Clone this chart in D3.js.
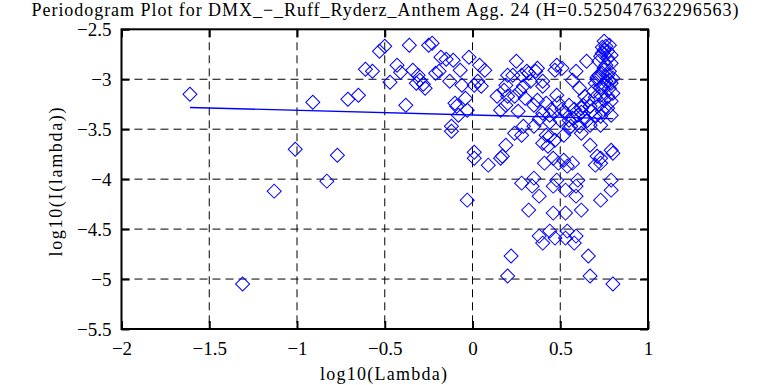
<!DOCTYPE html>
<html>
<head>
<meta charset="utf-8">
<script src="https://cdn.jsdelivr.net/npm/d3@7"></script>
<style>
  body { margin: 0; background: #fff; }
  svg { display: block; }
</style>
</head>
<body>
<svg id="chart" width="769" height="385" font-family="'Liberation Serif', 'DejaVu Serif', serif"></svg>
<script>
const title = 'Periodogram Plot for DMX_\u2212_Ruff_Ryderz_Anthem Agg. 24 (H=0.525047632296563)'
const xLabel = 'log10(Lambda)'
const yLabel = 'log10(I(lambda))'

const xTicks = [-2, -1.5, -1, -0.5, 0, 0.5, 1]
const xTickLabels = ['\u22122', '\u22121.5', '\u22121', '\u22120.5', '0', '0.5', '1']
const yTicks = [-2.5, -3, -3.5, -4, -4.5, -5, -5.5]
const yTickLabels = ['\u22122.5', '\u22123', '\u22123.5', '\u22124', '\u22124.5', '\u22125', '\u22125.5']

// periodogram points
const logLambda = [
  -1.61, -1.13, -1.31, -1.01, -0.83, -0.77, -0.91, -0.71, -0.65, -0.61,
  -0.57, -0.38, -0.47, -0.43, -0.41, -0.34, -0.32, -0.53, -0.50, -0.36,
  -0.25, -0.23, -0.31, -0.30, -0.28, -0.27, -0.18, -0.15, -0.11, -0.02,
  -0.07, -0.21, -0.19, -0.13, -0.06, 0.01, -0.04, -0.09, -0.08, -0.12,
  0.01, 0.04, 0.07, 0.03, 0.05, 0.20, 0.25, 0.31, 0.36, 0.40,
  0.33, 0.48, 0.47, 0.51, 0.65, 0.59, 0.75, 0.78, 0.74, 0.77,
  0.14, 0.18, 0.24, 0.29, 0.16, 0.37, 0.48, 0.49, -0.03, -0.10,
  -0.12, 0.76, 0.75, 0.73, 0.79, 0.75, 0.72, 0.77, 0.80, 0.70,
  0.75, 0.78, 0.69, 0.73, 0.77, 0.80, 0.66, 0.72, 0.77, 0.63,
  0.68, 0.57, 0.61, 0.64, 0.40, 0.37, 0.32, 0.28, 0.23, 0.19,
  0.20, 0.27, 0.30, 0.35, 0.42, 0.40, 0.44, 0.53, 0.55, 0.57,
  0.60, 0.64, 0.73, 0.79, 0.19, 0.26, 0.19, 0.17, 0.24, 0.28,
  0.29, 0.35, 0.42, 0.40, 0.43, 0.44, 0.47, 0.52, 0.56, 0.61,
  0.67, 0.62, 0.67, 0.73, 0.79, 0.80, 0.71, 0.73, 0.70, 0.41,
  0.46, 0.49, 0.52, 0.57, 0.54, 0.35, 0.28, 0.34, 0.38, 0.46,
  0.48, 0.53, 0.59, 0.60, 0.59, 0.73, 0.79, 0.79, 0.32, 0.46,
  0.53, 0.62, 0.01, 0.09, 0.16, -0.03, 0.73, 0.44, 0.54, 0.38,
  0.40, 0.47, 0.53, 0.59, 0.58, 0.22, 0.20, 0.66, 0.67, 0.80,
  0.78, 0.71, 0.62, 0.55, 0.51, 0.44, 0.74, 0.77, 0.79, 0.72,
  0.76, 0.78, 0.74, 0.71, 0.76, 0.79, 0.73, 0.70, 0.75, 0.79,
  0.67, 0.74, 0.70, 0.62, 0.65, 0.58, 0.45, 0.50, 0.38, 0.55
]
const logI = [
  -3.15, -4.12, -5.05, -3.70, -4.02, -3.76, -3.23, -3.20, -3.16, -2.90,
  -2.92, -3.26, -3.03, -2.86, -2.93, -2.91, -3.04, -2.72, -2.67, -2.66,
  -2.66, -2.64, -2.96, -3.01, -3.05, -3.09, -2.78, -2.80, -2.81, -2.78,
  -2.91, -2.94, -2.92, -3.02, -3.06, -3.06, -3.19, -3.27, -3.36, -3.52,
  -3.73, -2.86, -2.91, -3.02, -3.07, -2.96, -2.82, -2.92, -2.92, -3.02,
  -3.02, -2.86, -2.91, -2.89, -2.82, -2.92, -2.62, -2.66, -2.74, -2.79,
  -3.17, -3.11, -3.17, -3.07, -3.31, -3.21, -3.16, -3.24, -3.31, -3.24,
  -3.47, -2.67, -2.71, -2.77, -2.84, -2.89, -2.96, -2.96, -2.99, -3.04,
  -3.06, -3.09, -3.12, -3.16, -3.17, -3.14, -3.21, -3.26, -3.29, -3.26,
  -3.32, -3.01, -3.09, -3.17, -3.07, -2.89, -2.94, -2.96, -2.96, -3.06,
  -3.17, -3.12, -3.19, -3.26, -3.24, -3.34, -3.36, -3.34, -3.26, -3.39,
  -3.36, -3.39, -3.37, -3.36, -3.26, -3.32, -3.66, -3.77, -3.54, -3.56,
  -3.47, -3.47, -3.56, -3.64, -3.67, -3.57, -3.61, -3.56, -3.47, -3.47,
  -3.46, -3.54, -3.66, -3.46, -3.71, -3.74, -3.77, -3.79, -3.86, -3.84,
  -3.79, -3.84, -3.81, -3.84, -3.87, -3.99, -4.04, -4.07, -4.17, -4.07,
  -4.01, -4.11, -4.07, -4.01, -4.17, -4.21, -4.11, -4.01, -4.31, -4.34,
  -4.34, -4.31, -3.79, -3.86, -3.79, -4.21, -3.84, -4.52, -4.52, -4.57,
  -4.64, -4.59, -4.59, -4.57, -4.64, -4.77, -4.97, -4.77, -4.97, -5.05,
  -3.01, -2.98, -3.29, -3.41, -3.30, -3.43, -2.68, -2.72, -2.76, -2.82,
  -2.86, -2.92, -2.94, -3.00, -3.02, -3.04, -3.08, -3.18, -3.21, -3.22,
  -3.27, -3.32, -3.36, -3.33, -3.42, -3.30, -3.30, -3.41, -3.40, -3.49
]

// fitted line end points
const fitX = [-1.61, 0.80]
const fitY = [-3.283, -3.395]

const svg = d3.select('#chart')
const plotLeft = 121.5, plotRight = 648, plotTop = 29.3, plotBottom = 329
const serif = "'Liberation Serif', serif"

const x = d3.scaleLinear().domain([-2, 1]).range([plotLeft, plotRight])
const y = d3.scaleLinear().domain([-5.5, -2.5]).range([plotBottom, plotTop])

svg.append('rect').attr('width', 769).attr('height', 385).attr('fill', '#fff')

// grid
const grid = svg.append('g')
  .attr('stroke', '#000')
  .attr('stroke-width', 1)
  .attr('stroke-dasharray', '8,5')
grid.selectAll('line.gx')
  .data(xTicks.slice(1, -1))
  .enter().append('line')
  .attr('class', 'gx')
  .attr('x1', d => x(d)).attr('x2', d => x(d))
  .attr('y1', plotTop).attr('y2', plotBottom)
grid.selectAll('line.gy')
  .data(yTicks.slice(1, -1))
  .enter().append('line')
  .attr('class', 'gy')
  .attr('x1', plotLeft).attr('x2', plotRight)
  .attr('y1', d => y(d)).attr('y2', d => y(d))

// axes with inward ticks
function styleAxis(g) {
  g.select('.domain').remove()
  g.selectAll('.tick line').attr('stroke', '#000').attr('stroke-width', 2)
  g.selectAll('.tick text')
    .attr('fill', '#000')
    .attr('font-size', 19)
    .attr('font-family', serif)
}

svg.append('g')
  .attr('transform', `translate(0,${plotBottom})`)
  .call(d3.axisBottom(x).tickValues(xTicks).tickSize(-8).tickPadding(13)
    .tickFormat((d, i) => xTickLabels[i]))
  .call(styleAxis)
svg.append('g')
  .attr('transform', `translate(0,${plotTop})`)
  .call(d3.axisTop(x).tickValues(xTicks).tickSize(-8).tickFormat(''))
  .call(styleAxis)
svg.append('g')
  .attr('transform', `translate(${plotLeft},0)`)
  .call(d3.axisLeft(y).tickValues(yTicks).tickSize(-8).tickPadding(10)
    .tickFormat((d, i) => yTickLabels[i]))
  .call(styleAxis)
svg.append('g')
  .attr('transform', `translate(${plotRight},0)`)
  .call(d3.axisRight(y).tickValues(yTicks).tickSize(-8).tickFormat(''))
  .call(styleAxis)

// frame
svg.append('rect')
  .attr('x', plotLeft).attr('y', plotTop)
  .attr('width', plotRight - plotLeft).attr('height', plotBottom - plotTop)
  .attr('fill', 'none').attr('stroke', '#000').attr('stroke-width', 2)

// points
const pts = logLambda.map((v, i) => [v, logI[i]])
const diamond = d3.symbol(d3.symbolSquare, 98)
svg.append('g')
  .selectAll('path')
  .data(pts)
  .enter().append('path')
  .attr('d', diamond)
  .attr('transform', d => `translate(${x(d[0])},${y(d[1])}) rotate(45)`)
  .attr('fill', 'none')
  .attr('stroke', '#0000ff')
  .attr('stroke-width', 1)

// fitted line
svg.append('path')
  .datum(fitX.map((v, i) => [v, fitY[i]]))
  .attr('d', d3.line().x(d => x(d[0])).y(d => y(d[1])))
  .attr('fill', 'none')
  .attr('stroke', '#0000ff')
  .attr('stroke-width', 1.3)

// labels
svg.append('text')
  .attr('x', 385).attr('y', 16)
  .attr('text-anchor', 'middle')
  .attr('font-family', serif)
  .attr('font-size', 18)
  .attr('textLength', 707)
  .text(title)
svg.append('text')
  .attr('x', 383.5).attr('y', 380)
  .attr('text-anchor', 'middle')
  .attr('font-family', serif)
  .attr('font-size', 18)
  .attr('textLength', 127)
  .text(xLabel)
svg.append('text')
  .attr('transform', 'translate(62,182) rotate(-90)')
  .attr('text-anchor', 'middle')
  .attr('font-family', serif)
  .attr('font-size', 18)
  .attr('textLength', 149)
  .text(yLabel)
</script>
</body>
</html>
